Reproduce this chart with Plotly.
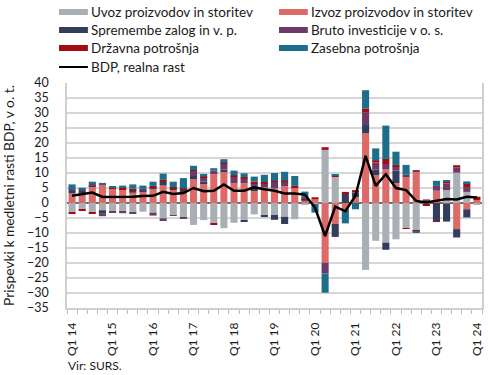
import plotly.graph_objects as go

quarters = [f"Q{q} {y}" for y in range(14, 25) for q in range(1, 5)][:41]

uvoz = [-3.0, -2.1, -3.1, -2.4, -2.7, -2.9, -3.2, -2.9, -3.2, -5.1,
        -4.0, -4.9, -7.3, -5.7, -6.8, -8.4, -6.6, -5.7, -3.8, -4.3,
        -4.0, -4.6, -5.4, -0.6, -0.3, 17.7, 8.8, 0.0, 0.0, -22.3,
        -12.6, -13.2, -12.1, -8.4, -9.0, 0.6, 0.0, 4.3, 10.1, 3.7, -0.6]
izvoz = [3.2, 3.6, 5.6, 6.0, 4.7, 4.4, 3.4, 3.8, 4.6, 5.8,
         4.4, 3.6, 7.9, 6.6, 9.6, 10.3, 6.6, 6.6, 4.0, 5.2,
         4.9, 5.6, 5.1, 0.8, 1.2, -19.9, -7.0, -2.3, 1.9, 23.2,
         9.3, 11.2, 6.6, 8.8, 10.4, -0.6, 4.1, -0.2, -8.7, -2.1, 1.0]
zalog = [0.9, 0.5, 0.3, -1.2, 0.1, 0.2, 0.9, 0.5, 0.7, 1.3,
         0.4, 1.0, 1.4, 0.6, 0.0, 0.9, 0.0, -0.5, 1.3, -0.4,
         -1.6, -2.4, 0.0, 0.0, 0.0, 0.0, -4.0, 3.0, 1.6, 3.1,
         1.9, -2.4, 4.2, 0.0, -0.3, 0.0, -6.0, -6.0, -2.8, -2.7, 0.0]
bruto = [0.4, 0.3, 0.6, -0.8, -0.5, -0.5, -0.4, 0.4, -1.0, -0.9,
         -0.3, -0.3, 1.4, 1.4, 1.2, 1.8, 2.2, 1.5, 1.3, 1.4,
         2.1, 1.5, 0.0, 0.5, 0.0, -3.6, -0.3, 0.0, 0.0, 3.8,
         2.3, 1.8, 1.3, 0.6, 0.6, 0.6, 1.6, 2.2, 1.8, 1.6, 0.0]
drzavna = [-0.4, -0.4, -0.3, 0.1, 0.4, 0.4, 0.5, 0.0, 0.4, 0.6,
           0.5, 0.3, 0.3, 0.2, -0.4, 0.4, 0.4, 0.5, 0.5, 0.4,
           0.4, 0.4, 0.6, 0.1, 0.7, 0.9, 0.5, 0.7, 0.8, 1.3,
           0.8, 1.7, 0.6, -0.2, -0.3, -0.4, -0.2, 0.8, 0.7, 1.3, 1.1]
zasebna = [1.7, 0.7, 0.6, 0.6, 0.3, 0.8, 1.4, 1.1, 1.4, 2.1,
           1.8, 3.4, 1.4, 0.9, 0.8, 1.2, 1.6, 1.3, 1.7, 2.4,
           2.6, 2.9, 3.3, 2.4, -2.9, -6.4, 0.3, -4.5, -2.1, 6.2,
           3.9, 11.1, 4.4, 3.3, -0.4, 0.0, 1.7, 0.3, 0.0, 0.6, 0.0]
bdp = [2.4, 3.0, 3.5, 2.0, 2.0, 2.0, 2.1, 2.3, 2.4, 3.7,
       3.0, 3.3, 5.0, 3.9, 4.1, 6.2, 4.1, 4.1, 5.2, 4.6,
       4.1, 3.2, 3.2, 2.8, -1.5, -11.0, -1.2, -2.7, 2.4, 15.7,
       5.7, 9.6, 5.0, 4.3, 0.7, 0.2, 0.8, 1.3, 1.2, 2.1, 1.8]

series_names = ["Uvoz proizvodov in storitev", "Izvoz proizvodov in storitev",
                "Spremembe zalog in v. p.", "Bruto investicije v o. s.",
                "Državna potrošnja", "Zasebna potrošnja"]
series_vals = [uvoz, izvoz, zalog, bruto, drzavna, zasebna]
colors = ["#a9afb5", "#dd6a66", "#323e5c", "#6c3a67", "#a30d12", "#1c6e8a"]
line_name = "BDP, realna rast"

FONT = "Lato"
W, H = 490, 375
L, R, T, B = 67, 6, 83, 67
pw, ph = W - L - R, H - T - B


def pxx(x):
    return (x - L) / pw


def pyy(y):
    return (H - B - y) / ph


xi = list(range(len(quarters)))
fig = go.Figure()
for name, vals, col in zip(series_names, series_vals, colors):
    fig.add_trace(go.Bar(x=xi, y=vals, name=name, marker=dict(color=col, line=dict(width=0)),
                         width=0.7, showlegend=False))
fig.add_trace(go.Scatter(x=xi, y=bdp, name=line_name, mode="lines",
                         line=dict(color="black", width=2.5), showlegend=False))

# manual legend (two columns)
shapes = []
annotations = []
leg_pos = [(59, 12), (280, 12), (59, 30), (280, 30), (59, 48), (280, 48)]
for (lx, ly), name, col in zip(leg_pos, series_names, colors):
    shapes.append(dict(type="rect", xref="paper", yref="paper",
                       x0=pxx(lx), x1=pxx(lx + 29), y0=pyy(ly + 3), y1=pyy(ly - 3),
                       fillcolor=col, line=dict(width=0)))
    annotations.append(dict(xref="paper", yref="paper", x=pxx(lx + 30), y=pyy(ly),
                            xanchor="left", yanchor="middle", text=name, showarrow=False,
                            font=dict(family=FONT, size=13.5, color="#1a1a1a")))
shapes.append(dict(type="line", xref="paper", yref="paper",
                   x0=pxx(59), x1=pxx(88), y0=pyy(67), y1=pyy(67),
                   line=dict(color="black", width=2)))
annotations.append(dict(xref="paper", yref="paper", x=pxx(89), y=pyy(67),
                        xanchor="left", yanchor="middle", text=line_name, showarrow=False,
                        font=dict(family=FONT, size=13.5, color="#1a1a1a")))
annotations.append(dict(xref="paper", yref="paper", x=pxx(66), y=pyy(365),
                        xanchor="left", yanchor="middle", text="Vir: SURS.", showarrow=False,
                        font=dict(family=FONT, size=12, color="#1a1a1a")))

q1_idx = [i for i, q in enumerate(quarters) if q.startswith("Q1")]

fig.update_layout(
    width=W, height=H, margin=dict(l=L, r=R, t=T, b=B),
    paper_bgcolor="white", plot_bgcolor="white",
    barmode="relative", bargap=0.3,
    font=dict(family=FONT, size=12.5, color="#1a1a1a"),
    shapes=shapes, annotations=annotations,
    xaxis=dict(range=[-0.5, len(quarters) - 0.5], tickmode="array",
               tickvals=q1_idx, ticktext=[quarters[i] for i in q1_idx],
               tickangle=-90, ticks="", showgrid=False, zeroline=False,
               showline=True, linecolor="#cfcfcf", linewidth=1.5,
               ticklabelstandoff=8,
               minor=dict(tick0=0.5, dtick=1, ticks="outside", ticklen=4,
                          tickcolor="#bdbdbd", tickwidth=1, showgrid=False),
               tickfont=dict(family=FONT, size=12)),
    yaxis=dict(range=[-35, 40], dtick=5, tick0=0, showgrid=True, gridcolor="#d6d6d6",
               gridwidth=1.5, zeroline=True, zerolinecolor="#6e6e6e", zerolinewidth=1.5,
               showline=True, linecolor="#cfcfcf", linewidth=1.5, mirror=True,
               ticks="", ticklabelstandoff=14,
               title=dict(text="Prispevki k medletni rasti BDP, v o. t.",
                          font=dict(family=FONT, size=13.8), standoff=9),
               tickfont=dict(family=FONT, size=12.5)),
)

fig.write_html("out.html", config={"displayModeBar": False},
               post_script="document.body.style.margin='0';")
